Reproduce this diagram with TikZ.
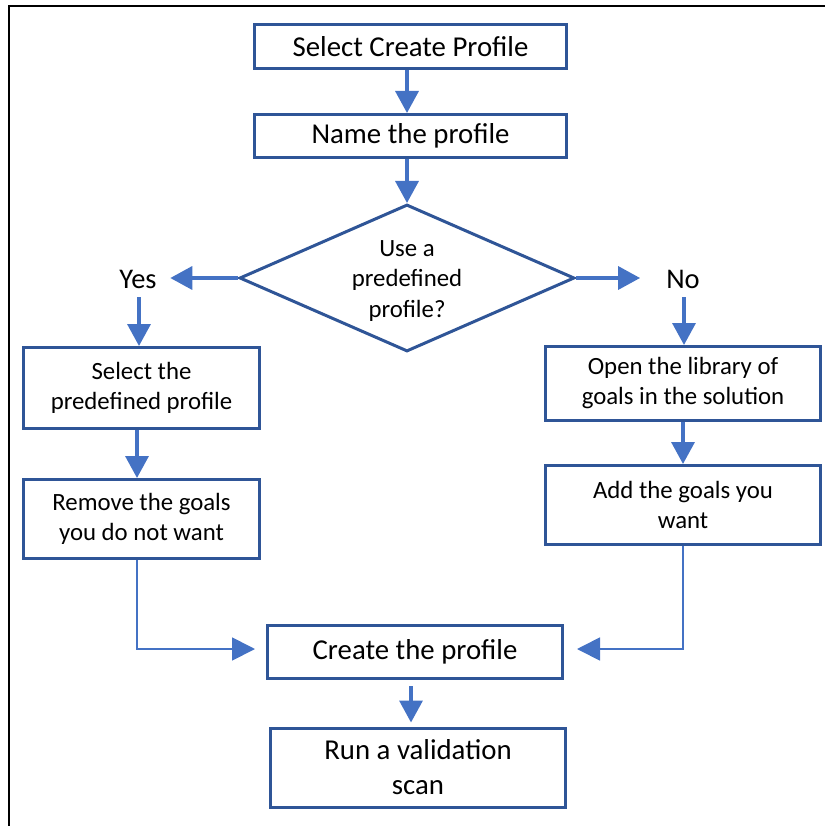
\documentclass[tikz,border=0pt]{standalone}
\usepackage{fontspec}
\setmainfont{Carlito}
\usetikzlibrary{arrows.meta,shapes.geometric}
\definecolor{boxblue}{HTML}{2F5597}
\definecolor{arrowblue}{HTML}{4472C4}
\begin{document}
\begin{tikzpicture}[x=1pt,y=-1pt,
  stepbox/.style={draw=boxblue,line width=3pt,fill=white,inner sep=0pt,align=center,text=black},
  big/.style={font=\fontsize{28.8}{35}\selectfont},
  small/.style={font=\fontsize{24.8}{30}\selectfont},
  decision/.style={diamond,aspect=2.25,draw=boxblue,line width=3pt,fill=white,inner sep=0pt,
    minimum width=335pt,minimum height=147pt},
  decisiontext/.style={align=center,font=\fontsize{24.8}{30.5}\selectfont,inner sep=0pt,yshift=-3pt},
  flow/.style={draw=arrowblue,line width=3.5pt,-{Triangle[width=23pt,length=22pt]}},
  thinflow/.style={draw=arrowblue,line width=1.8pt,-{Triangle[width=23pt,length=23pt]}},
  answer/.style={font=\fontsize{28.5}{34}\selectfont,inner sep=0pt}
]
\useasboundingbox (0,0) rectangle (825,826);
% page frame
\draw[line width=1.5pt] (9,826) -- (9,6) -- (825,6);

% steps
\node[stepbox,big,minimum width=312pt,minimum height=44pt] (sel) at (410.5,46.5) {Select Create Profile};
\node[stepbox,big,minimum width=312pt,minimum height=43pt] (name) at (410.5,136) {Name the profile};
\node[decision,label={[decisiontext]center:Use a\\predefined\\profile?}] (use) at (407,278) {};
\node[answer] (yes) at (138,279) {Yes};
\node[answer] (no) at (683,279) {No};
\node[stepbox,small,minimum width=236pt,minimum height=81pt] (pick) at (141.5,388) {Select the\\predefined profile};
\node[stepbox,small,minimum width=236pt,minimum height=79pt] (remove) at (141.5,519) {Remove the goals\\you do not want};
\node[stepbox,small,minimum width=275pt,minimum height=74pt] (open) at (683,383.5) {Open the library of\\goals in the solution};
\node[stepbox,small,minimum width=275pt,minimum height=79pt] (add) at (683,505) {Add the goals you\\want};
\node[stepbox,big,minimum width=295pt,minimum height=53pt] (create) at (415,652) {Create the profile};
\node[stepbox,big,minimum width=295pt,minimum height=79pt] (scan) at (418,767.5) {Run a validation\\scan};

% connectors
\draw[flow] ([xshift=-3.5pt]sel.south) -- ([xshift=-3.5pt]name.north);
\draw[flow] ([xshift=-3.5pt]name.south) -- (use.north);
\draw[flow,shorten >=13.5pt] (use.west) -- (use.west -| yes.east);
\draw[flow,shorten >=26pt] (use.east) -- (use.east -| no.west);
\draw[flow,shorten <=9pt] ([xshift=1pt]yes.south) -- ([xshift=1pt]yes.south |- pick.north);
\draw[flow,shorten <=9pt] ([xshift=1pt]no.south) -- ([xshift=1pt]no.south |- open.north);
\draw[flow] ([xshift=-4.5pt]pick.south) -- ([xshift=-4.5pt]remove.north);
\draw[flow] (open.south) -- (add.north);
\draw[thinflow,shorten >=11pt] ([xshift=-4.5pt]remove.south) |- ([yshift=3pt]create.west);
\draw[thinflow,shorten >=13pt] (add.south) |- ([yshift=3pt]create.east);
\draw[flow,shorten <=6pt,shorten >=4pt] ([xshift=-4pt]create.south) -- ([xshift=-4pt]create.south |- scan.north);
\end{tikzpicture}
\end{document}
